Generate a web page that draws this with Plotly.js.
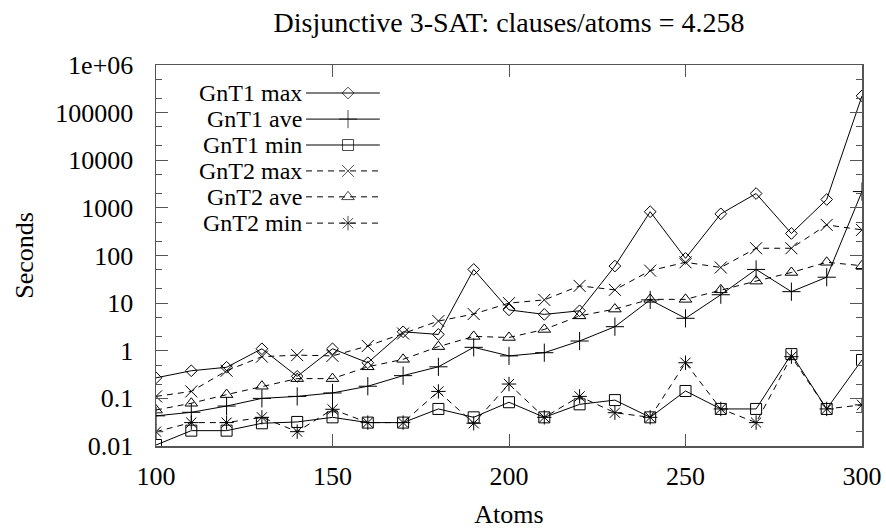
<!DOCTYPE html>
<html><head><meta charset="utf-8">
<script src="https://cdn.plot.ly/plotly-3.0.1.min.js"></script>
<style>html,body{margin:0;padding:0;background:#fff;}#chart{width:886px;height:529px;}</style>
</head><body><div id="chart"></div>
<script>
const atoms = [100,110,120,130,140,150,160,170,180,190,200,210,220,230,240,250,260,270,280,290,300];
const gnt1Max = [0.27,0.38,0.45,1.1,0.29,1.1,0.56,2.5,2.2,51,7.2,5.8,6.9,60,830,87,750,2000,290,1500,225000];
const gnt1Ave = [0.043,0.051,0.069,0.10,0.11,0.13,0.18,0.30,0.46,1.18,0.78,0.91,1.6,3.2,11.7,4.8,15,51,17.4,35,2200];
const gnt1Min = [0.0105,0.021,0.021,0.03,0.032,0.04,0.031,0.031,0.06,0.04,0.083,0.04,0.075,0.092,0.04,0.143,0.06,0.06,0.85,0.06,0.64];
const gnt2Max = [0.11,0.14,0.38,0.75,0.81,0.78,1.26,2.3,4.2,5.9,10,11.7,23,19,48,72,56,142,142,440,345];
const gnt2Ave = [0.057,0.079,0.12,0.18,0.26,0.26,0.46,0.66,1.22,2.0,1.9,2.8,5.4,7.5,12,12,19,29,44,72,61];
const gnt2Min = [0.020,0.031,0.031,0.04,0.02,0.059,0.031,0.031,0.14,0.03,0.20,0.04,0.11,0.05,0.04,0.56,0.06,0.031,0.75,0.06,0.073];
const seriesNames = ["GnT1 max","GnT1 ave","GnT1 min","GnT2 max","GnT2 ave","GnT2 min"];
const yTickVals = [0.01,0.1,1,10,100,1000,10000,100000,1000000];
const yTickText = ["0.01","0.1","1","10","100","1000","10000","100000","1e+06"];
const xTickVals = [100,150,200,250,300];

const seriesData = [gnt1Max,gnt1Ave,gnt1Min,gnt2Max,gnt2Ave,gnt2Min];
const symbols = ["diamond-open","cross-thin-open","square-open","x-thin-open","triangle-up-open","asterisk-open"];
const msizes = [9,13,11,12,11,12];
const dashes = ["solid","solid","solid","6px,5px","6px,5px","6px,5px"];
const FONT = "Liberation Serif";
const AX = "#555";

const traces = [];
seriesData.forEach((ys,i)=>{
  traces.push({x:atoms,y:ys,name:seriesNames[i],type:"scatter",mode:"lines+markers",
    line:{color:"#000",width:1,dash:dashes[i]},
    marker:{symbol:symbols[i],size:msizes[i],color:"#000",line:{color:"#000",width:1}},
    showlegend:false,hoverinfo:"skip"});
});
const keyRows = [0.9265,0.858,0.790,0.722,0.654,0.585];
const annotations = [];
seriesNames.forEach((n,i)=>{
  traces.push({x:[0.2125,0.272,0.317],y:[keyRows[i],keyRows[i],keyRows[i]],xaxis:"x2",yaxis:"y2",
    type:"scatter",mode:"lines+markers",line:{color:"#000",width:1,dash:dashes[i]},
    marker:{symbol:symbols[i],size:[0,msizes[i],0],color:"#000",line:{color:"#000",width:1}},
    showlegend:false,hoverinfo:"skip"});
  annotations.push({xref:"paper",yref:"paper",x:0.208,y:keyRows[i],xanchor:"right",yanchor:"middle",
    text:n,showarrow:false,borderpad:0,font:{family:FONT,size:24,color:"#000"}});
});

const layout = {
  width:886,height:529,paper_bgcolor:"#fff",plot_bgcolor:"#fff",
  margin:{l:156,r:24,t:65,b:83},
  font:{family:FONT,size:26,color:"#000"},
  title:{text:"Disjunctive 3-SAT: clauses/atoms = 4.258",x:0.5745,xanchor:"center",y:0.958,yanchor:"middle",font:{family:FONT,size:28,color:"#000"}},
  xaxis:{range:[100,300],tickmode:"array",tickvals:xTickVals,ticks:"inside",ticklen:12,tickcolor:AX,tickwidth:1,
    showline:true,linecolor:AX,linewidth:1.5,mirror:"allticks",showgrid:false,zeroline:false,
    ticklabelstandoff:6,tickfont:{family:FONT,size:26},
    title:{text:"Atoms",font:{family:FONT,size:26},standoff:18}},
  yaxis:{type:"log",range:[-2,6],tickmode:"array",tickvals:yTickVals,ticktext:yTickText,ticks:"inside",ticklen:12,
    tickcolor:AX,tickwidth:1,showline:true,linecolor:AX,linewidth:1.5,mirror:"allticks",showgrid:false,zeroline:false,
    minor:{ticks:"inside",ticklen:6,dtick:"D2",tickcolor:AX,showgrid:false},
    ticklabelstandoff:16,tickfont:{family:FONT,size:26},
    title:{text:"Seconds",font:{family:FONT,size:26},standoff:14}},
  xaxis2:{overlaying:"x",range:[0,1],visible:false,fixedrange:true},
  yaxis2:{overlaying:"y",range:[0,1],visible:false,fixedrange:true},
  annotations:annotations,
  showlegend:false
};
Plotly.newPlot("chart",traces,layout,{staticPlot:true});
</script></body></html>
